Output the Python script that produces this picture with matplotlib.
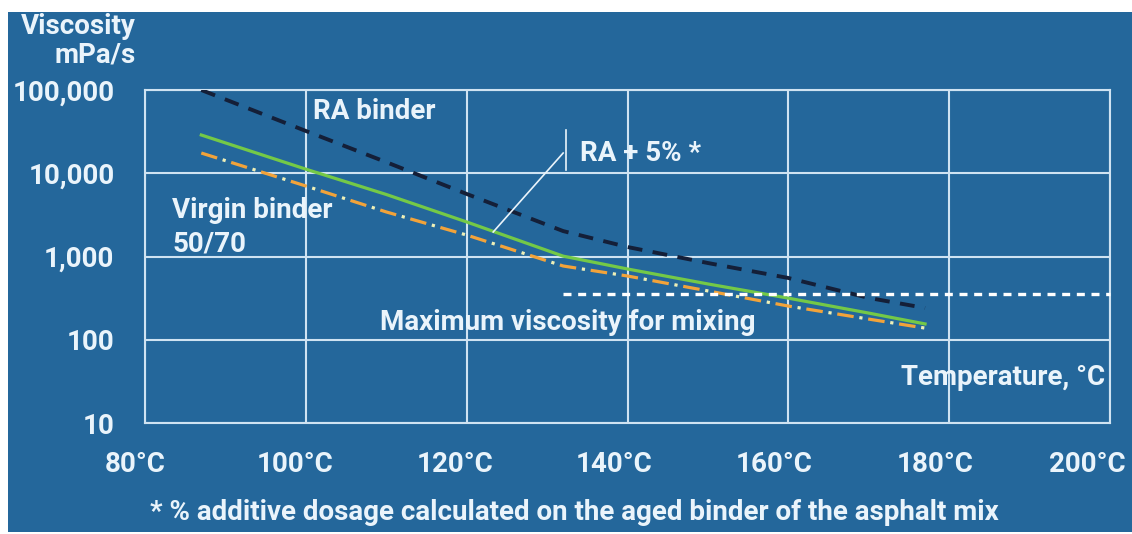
import matplotlib
matplotlib.use("Agg")
import matplotlib.pyplot as plt
from matplotlib.patches import Rectangle
from matplotlib.transforms import ScaledTranslation
from matplotlib.ticker import FixedLocator, FixedFormatter

plt.rcParams['font.family'] = ['Roboto', 'DejaVu Sans']
plt.rcParams['font.weight'] = 'bold'

# temperatures, degC
temps = [87, 100, 110, 120, 132, 140, 150, 160, 170, 177]
# viscosity, mPa/s
ra_binder = [100000, 32200, 13600, 5640, 2020, 1300, 835, 552, 318, 241]
ra_5pct = [28800, 11200, 5560, 2600, 1010, 708, 468, 316, 209, 155]
virgin = [17500, 7030, 3430, 1810, 769, 583, 386, 254, 177, 138]

max_mix_temps = [132, 200]
max_mix_visc = 355

x_ticks = [80, 100, 120, 140, 160, 180, 200]
x_labels = ["80°C", "100°C", "120°C", "140°C", "160°C", "180°C", "200°C"]
y_ticks = [10, 100, 1000, 10000, 100000]
y_labels = ["10", "100", "1,000", "10,000", "100,000"]

BG = "#24679b"
GRID = "#cfe3f2"
TXT = "#eaf4fb"
FS = 20

fig = plt.figure(figsize=(11.32, 5.34), dpi=100)
fig.patch.set_facecolor("white")
fig.patches.append(Rectangle((8 / 1132, 2 / 534), 1 - 8 / 1132, 1 - 14 / 534,
                             transform=fig.transFigure, facecolor=BG,
                             edgecolor="none", zorder=-10))

ax = fig.add_axes([145 / 1132, 1 - 423 / 534, (1110 - 145) / 1132, (423 - 90) / 534])
ax.set_facecolor(BG)
ax.set_yscale("log")
ax.set_xlim(80, 200)
ax.set_ylim(10, 100000)

ax.xaxis.set_major_locator(FixedLocator(x_ticks))
ax.xaxis.set_major_formatter(FixedFormatter(x_labels))
ax.yaxis.set_major_locator(FixedLocator(y_ticks))
ax.yaxis.set_minor_locator(FixedLocator([]))
ax.yaxis.set_major_formatter(FixedFormatter(y_labels))
ax.tick_params(length=0, colors=TXT, labelsize=FS)
ax.tick_params(axis="x", pad=20)
ax.tick_params(axis="y", pad=22)
ax.grid(True, color=GRID, lw=1.5)
ax.set_axisbelow(True)
for sp in ax.spines.values():
    sp.set_color(GRID)
    sp.set_linewidth(1.5)

# the brochure labels sit a bit left of their gridlines
label_shift_px = [-10, -11, -12, -13, -14, -14, -23]
for lab, dx in zip(ax.get_xticklabels(), label_shift_px):
    lab.set_transform(lab.get_transform() +
                      ScaledTranslation(dx / 100, 0, fig.dpi_scale_trans))

# curves
ax.plot(temps, ra_binder, color="#141f38", lw=2.8, ls=(0, (3.8, 2.7)),
        dash_capstyle="butt", zorder=3)
ax.plot(temps, ra_5pct, color="#74c947", lw=2.3, zorder=4)
ax.plot(temps, virgin, color="#f2a33a", lw=2.3, ls=(0, (5.2, 4.6)),
        dash_capstyle="butt", zorder=3)
ax.plot(temps, virgin, color="#eef0b8", lw=2.3, ls=(2.8, (1.0, 8.8)),
        dash_capstyle="butt", zorder=3)

# maximum viscosity for mixing
ax.plot(max_mix_temps, [max_mix_visc, max_mix_visc], color="white", lw=2.4,
        ls=(0, (2.4, 2.0)), dash_capstyle="butt", zorder=5, clip_on=False)

# labels
ax.text(100.9, 54500, "RA binder", color=TXT, fontsize=FS, ha="left", va="center")
ax.text(83.4, 2230, "Virgin binder\n50/70", color=TXT, fontsize=FS, ha="left",
        va="center", linespacing=1.3)
ax.text(134.1, 17500, "RA + 5% *", color=TXT, fontsize=FS, ha="left", va="center")
ax.plot([123.3, 132.0], [1970, 17500], color=TXT, lw=1.2, zorder=6)
ax.plot([132.3, 132.3], [10900, 33000], color=TXT, lw=1.2, zorder=6)
ax.text(109.2, 163, "Maximum viscosity for mixing", color=TXT, fontsize=FS,
        ha="left", va="center")
ax.text(199.4, 34.8, "Temperature, °C", color=TXT, fontsize=FS, ha="right",
        va="center")

fig.text(136 / 1132, 1 - 41 / 534, "Viscosity\nmPa/s", color=TXT, fontsize=FS,
         ha="right", va="center", linespacing=1.05)
fig.text(574 / 1132, 1 - 513 / 534,
         "* % additive dosage calculated on the aged binder of the asphalt mix",
         color=TXT, fontsize=FS, ha="center", va="center")

fig.savefig("out.png", dpi=100, facecolor=fig.get_facecolor())
